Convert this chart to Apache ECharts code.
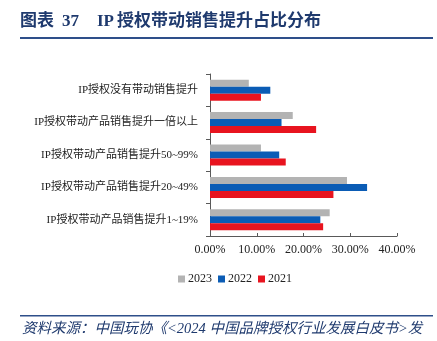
<!DOCTYPE html>
<html><head><meta charset="utf-8">
<script src="https://cdn.jsdelivr.net/npm/echarts@6/dist/echarts.min.js"></script>
<style>html,body{margin:0;padding:0;background:#fff}#c{width:437px;height:341px}</style>
</head><body><div id="c"></div>
<script>
const categories = ['IP授权没有带动销售提升','IP授权带动产品销售提升一倍以上','IP授权带动产品销售提升50~99%','IP授权带动产品销售提升20~49%','IP授权带动产品销售提升1~19%'];
const seriesNames = ['2023','2022','2021'];
const v2023 = [8.3, 17.7, 10.9, 29.3, 25.6];
const v2022 = [12.9, 15.3, 14.8, 33.6, 23.6];
const v2021 = [10.9, 22.7, 16.2, 26.4, 24.2];
const xTicks = [0, 10, 20, 30, 40];
const colors = ['#b3b3b3', '#0b5cb5', '#e8141f'];
const data = [v2023, v2022, v2021];
const serif = '"Liberation Serif", "Noto Sans CJK SC", serif';
const titleFont = 'bold 17px ' + serif;
const chart = echarts.init(document.getElementById('c'));
chart.setOption({
  animation: false,
  textStyle: { fontFamily: serif },
  graphic: [
    { type: 'text', left: 20, top: 13, style: { text: '图表', font: titleFont, fill: '#1f3a6e' } },
    { type: 'text', left: 62, top: 13, style: { text: '37', font: titleFont, fill: '#1f3a6e' } },
    { type: 'text', left: 97, top: 13, style: { text: 'IP', font: titleFont, fill: '#1f3a6e' } },
    { type: 'text', left: 117, top: 13, style: { text: '授权带动销售提升占比分布', font: titleFont, fill: '#1f3a6e' } },
    { type: 'rect', shape: { x: 20, y: 37, width: 413, height: 2 }, style: { fill: '#2e4f8a' } },
    { type: 'rect', shape: { x: 20, y: 315, width: 413, height: 1.5 }, style: { fill: '#2e4f8a' } },
    { type: 'text', left: 22, top: 322, style: { text: '资料来源：中国玩协《<2024 中国品牌授权行业发展白皮书>发', font: 'italic 14.5px ' + serif, fill: '#1f3a6e' } }
  ],
  legend: {
    data: seriesNames, top: 268, left: 173, itemWidth: 7, itemHeight: 7, itemGap: 6,
    icon: 'rect', textStyle: { fontSize: 12, fontFamily: serif, color: '#222', padding: [0,0,0,-2] }
  },
  grid: { left: 210, right: 40, top: 74, bottom: 105 },
  xAxis: {
    type: 'value', min: 0, max: 40, interval: 10,
    axisLine: { show: true, lineStyle: { color: '#595959' } },
    axisTick: { show: true, inside: true, length: 3, lineStyle: { color: '#595959' } },
    splitLine: { show: false },
    axisLabel: { formatter: v => v.toFixed(2) + '%', fontSize: 12, color: '#222', margin: 8, fontFamily: serif }
  },
  yAxis: {
    type: 'category', data: categories, inverse: true,
    axisLine: { show: true, lineStyle: { color: '#595959' } },
    axisTick: { show: true, length: 4, lineStyle: { color: '#595959' } },
    axisLabel: { fontSize: 11, color: '#222', margin: 12, fontFamily: serif }
  },
  series: seriesNames.map((n, i) => ({
    name: n, type: 'bar', data: data[i], barWidth: 7, barGap: '0%',
    itemStyle: { color: colors[i] }
  }))
});
</script></body></html>
